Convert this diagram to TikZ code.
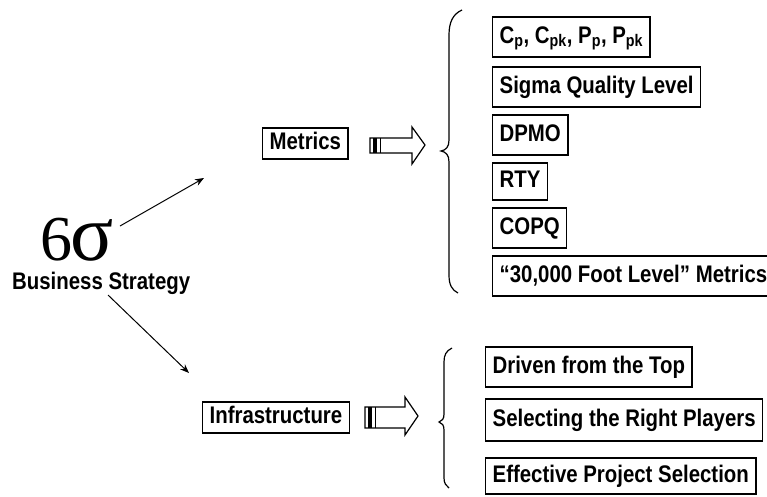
\documentclass[tikz,border=0pt]{standalone}
\usepackage{fontspec}
\newfontfamily\cond{Liberation Sans}[FakeStretch=0.85]
\newfontfamily\serifsig{Liberation Serif}
\usetikzlibrary{arrows.meta}
\tikzset{
  lbl/.style={font=\cond\bfseries\fontsize{24}{27}\selectfont},
  box/.style={lbl, draw, line width=1.3pt, inner xsep=7pt, inner ysep=0pt,
    text height=16pt, text depth=4pt, minimum height=40pt, anchor=west},
  smallbox/.style={box, minimum height=31pt},
  conn/.style={line width=1pt, -{Stealth[length=9pt,width=7pt]}},
  blk/.style={draw, line width=1.2pt, fill=white, line join=miter},
  bracepath/.style={draw, line width=1.2pt}
}
\begin{document}
\begin{tikzpicture}[x=1pt,y=-1pt]
\useasboundingbox (0,0) rectangle (767,496);
\clip (0,0) rectangle (767,496);
% centre
\node[anchor=base west, inner sep=0pt, text depth=0pt, font=\serifsig\fontsize{64}{64}\selectfont] (six) at (40,260) {6\kern-2pt{\fontsize{80}{80}\selectfont\symbol{"03C3}}};
\node[lbl, anchor=base west, inner sep=0pt] (bs) at (12,289) {Business Strategy};
\coordinate (s1) at (120,226);
\coordinate (e1) at (204,178);
\coordinate (s2) at (108,295);
\coordinate (e2) at (189,373);
\draw[conn] (s1) -- (e1);
\draw[conn] (s2) -- (e2);
% branch boxes
\node[smallbox] (metrics) at (262,143.5) {Metrics};
\node[smallbox] (infra) at (202,417.5) {Infrastructure};
% block arrows
\draw[blk] (370,138) -- (412,138) -- (412,127) -- (425,145) -- (412,164) -- (412,153) -- (370,153) -- cycle;
\fill (373,138) rectangle (377,153);
\draw[line width=1pt] (380,138) -- (380,153);
\draw[blk] (365,407) -- (405,407) -- (405,397) -- (418,416) -- (405,435) -- (405,428) -- (365,428) -- cycle;
\fill (368,407) rectangle (372,428);
\draw[line width=1pt] (375,407) -- (375,428);
% braces
\draw[bracepath] (462,10) .. controls (453,14) and (449,22) .. (449,35) -- (449,140)
  .. controls (449,147) and (446,150) .. (441,151) .. controls (446,152) and (449,155) .. (449,162)
  -- (449,275) .. controls (449,285) and (452,290) .. (458,293);
\draw[bracepath] (452,348) .. controls (446,351) and (444,355) .. (444,362) -- (444,414)
  .. controls (444,419) and (442,421) .. (439,422) .. controls (442,423) and (444,425) .. (444,430)
  -- (444,478) .. controls (444,483) and (446,486) .. (449,488);
% metric items
\node[box] (cp) at (492,37) {C\textsubscript{p}, C\textsubscript{pk}, P\textsubscript{p}, P\textsubscript{pk}};
\node[box] (sql) at (492,87) {Sigma Quality Level};
\node[box] (dpmo) at (492,135) {DPMO};
\node[box, minimum height=37pt] (rty) at (492,181.5) {RTY};
\node[box] (copq) at (492,228) {COPQ};
\node[box] (foot) at (492,276) {“30,000 Foot Level” Metrics};
% infrastructure items
\node[box] (top) at (485,367) {Driven from the Top};
\node[box, minimum height=42pt] (players) at (485,420) {Selecting the Right Players};
\node[box, minimum height=36pt] (proj) at (485,476) {Effective Project Selection};
\end{tikzpicture}
\end{document}
